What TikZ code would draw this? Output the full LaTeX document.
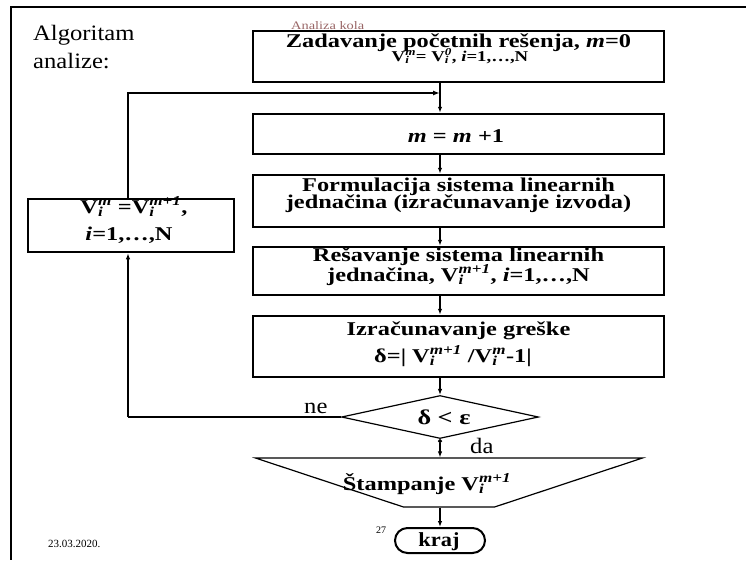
\documentclass[tikz,border=0pt]{standalone}
\usepackage{fontspec}
\setmainfont{Liberation Serif}
\newfontfamily\wideserif{Liberation Serif}[FakeStretch=1.25]
\newfontfamily\midserif{Liberation Serif}[FakeStretch=1.12]
\usetikzlibrary{shapes.geometric,arrows.meta}
\newcommand{\Vsub}[1]{V\makebox[0pt][l]{\textsubscript{\textit{i}}}\textsuperscript{\textit{#1}}}

\begin{document}
\begin{tikzpicture}[x=1pt,y=-1pt,
	box/.style={draw, line width=2.5, minimum width=411, inner sep=0},
	ln/.style={inner sep=0, anchor=base, font=\wideserif\bfseries\fontsize{19.5}{20}\selectfont},
	lbl/.style={inner sep=0, anchor=base west},
	flow/.style={line width=1.2, -{Latex[length=6,width=4.5]}},
	loopline/.style={line width=2.5}]
	\definecolor{cHeader}{HTML}{996666}
	\definecolor{cFrame}{HTML}{000000}

	\useasboundingbox (0,0) rectangle (746,560);
	\draw[cFrame, line width=1.8] (746,7) -- (11,7) -- (11,560);

	% headings and footer
	\node[lbl, font=\midserif\fontsize{22}{22}\selectfont] (title-a) at (33,40) {Algoritam};
	\node[lbl, font=\midserif\fontsize{22}{22}\selectfont] (title-b) at (33,68) {analize:};
	\node[lbl, cHeader, font=\wideserif\fontsize{11.5}{12}\selectfont] (hdr) at (291,29) {Analiza kola};
	\node[lbl, font=\fontsize{11}{11}\selectfont] (date) at (48,547) {23.03.2020.};
	\node[lbl, font=\fontsize{10}{10}\selectfont] (page) at (376,533) {27};

	% boxes
	\node[box, minimum height=51] (init) at (458.5,56.5) {};
	\node[box, minimum height=40] (incr) at (458.5,134) {};
	\node[box, minimum height=52] (form) at (458.5,201) {};
	\node[box, minimum height=48] (solve) at (458.5,271) {};
	\node[box, minimum height=61] (err) at (458.5,346.5) {};
	\node[box, minimum width=206, minimum height=53] (upd) at (131,225.5) {};
	\node[draw, diamond, line width=1.2, minimum width=197, minimum height=43, inner sep=0, aspect=4.6] (test) at (440,417) {};
	\node[draw, trapezium, shape border rotate=180, trapezium stretches=true, trapezium angle=31.6, minimum width=388, minimum height=49, line width=1.2] (print) at (449,482.5) {};
	\node[draw, rounded corners=12.5, line width=2, minimum width=90, minimum height=25, inner sep=0] (stop) at (440,540.5) {};

	% texts
	\node[ln] (init-a) at (458.5,47) {Zadavanje početnih rešenja, \textit{m}=0};
	\node[ln, font=\wideserif\bfseries\fontsize{15}{15}\selectfont] (init-b) at (460,61) {\Vsub{m}= \Vsub{0}, \textit{i}=1,…,N};
	\node[ln] (incr-a) at (456,142) {\textit{m} = \textit{m} +1};
	\node[ln] (form-a) at (458.5,191) {Formulacija sistema linearnih};
	\node[ln] (form-b) at (458.5,208) {jednačina (izračunavanje izvoda)};
	\node[ln] (solve-a) at (458.5,261) {Rešavanje sistema linearnih};
	\node[ln] (solve-b) at (458.5,281) {jednačina, \Vsub{m+1}, \textit{i}=1,…,N};
	\node[ln] (err-a) at (458.5,335) {Izračunavanje greške};
	\node[ln] (err-b) at (453,362) {δ=| \Vsub{m+1} /\Vsub{m}-1|};
	\node[ln] (upd-a) at (134,213) {\Vsub{m} =\Vsub{m+1},};
	\node[ln] (upd-b) at (129,240) {\textit{i}=1,…,N};
	\node[ln, font=\wideserif\bfseries\fontsize{21}{21}\selectfont] (test-a) at (444,424) {δ < ε};
	\node[ln] (print-a) at (427,490) {Štampanje \Vsub{m+1}};
	\node[ln, font=\midserif\bfseries\fontsize{20}{20}\selectfont] (stop-a) at (439,546) {kraj};

	\node[lbl, font=\midserif\fontsize{22}{22}\selectfont] (no) at (304,413) {ne};
	\node[lbl, font=\midserif\fontsize{22}{22}\selectfont] (yes) at (470,453) {da};

	% connectors
	\coordinate (ax) at (440,0);
	\coordinate (lx) at (128,0);
	\coordinate (jn) at (440,93);

	\draw[flow] (init.south -| ax) -- (incr.north -| ax);
	\draw[flow] (incr.south -| ax) -- (form.north -| ax);
	\draw[flow] (form.south -| ax) -- (solve.north -| ax);
	\draw[flow] (solve.south -| ax) -- (err.north -| ax);
	\draw[flow] (err.south -| ax) -- (test.north);
	\draw[flow, {Circle[length=4]}-{Latex[length=6,width=4.5]}] (test.south) -- (print.north -| ax);
	\draw[flow] (print.south -| ax) -- (stop.north -| ax);

	\draw[loopline] (test.west) -- (test.west -| lx);
	\draw[flow] (test.west -| lx) -- (upd.south -| lx);
	\draw[loopline, -{Latex[length=7,width=5]}] (upd.north -| lx) |- (jn);
\end{tikzpicture}
\end{document}
